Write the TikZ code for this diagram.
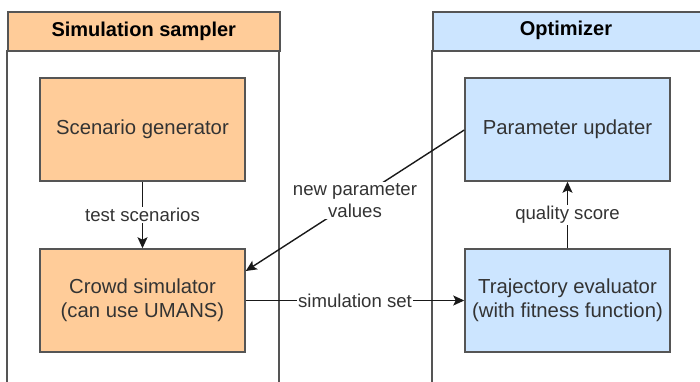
\documentclass[tikz,border=0pt]{standalone}
\usepackage{fontspec}
\setmainfont{Liberation Sans}
\usetikzlibrary{arrows.meta}
\definecolor{lineC}{HTML}{555555}
\definecolor{txtC}{HTML}{333333}
\definecolor{orangeF}{HTML}{FFCC99}
\definecolor{blueF}{HTML}{CCE5FF}
\tikzset{
  lane/.style={draw=lineC, line width=1.5pt},
  header/.style={draw=lineC, line width=1.5pt, text=black, font=\fontsize{20}{24}\selectfont\bfseries},
  procbox/.style={draw=lineC, line width=1.5pt, minimum width=205pt, minimum height=103pt,
    align=center, text=txtC, font=\fontsize{20.3}{24}\selectfont, inner sep=0pt},
  conn/.style={draw=black!90, line width=1.4pt, -{Stealth[length=11pt,width=10pt,inset=2.5pt]}},
  elabel/.style={fill=white, text=txtC, font=\fontsize{18.6}{22}\selectfont, align=center, inner sep=1.5pt}
}
\begin{document}
\begin{tikzpicture}[x=1pt,y=-1pt]
\useasboundingbox (0,0) rectangle (700,381);
% swimlane bodies (open at the bottom)
\draw[lane] (7,50) -- (7,385);
\draw[lane] (279,50) -- (279,385);
\draw[lane] (432,50) -- (432,385);
\draw[lane] (705,50) -- (705,385);
% swimlane headers
\node[header, fill=orangeF, minimum width=272pt, minimum height=39pt, anchor=north west, inner sep=0pt] (hl) at (7,11) {Simulation sampler};
\node[header, fill=blueF, minimum width=280pt, minimum height=39pt, anchor=north west, inner sep=0pt] (hr) at (432,11) {};
\node[text=black, font=\fontsize{20}{24}\selectfont\bfseries] (hrt) at (566,30.5) {Optimizer};
% process boxes
\node[procbox, fill=orangeF] (scen) at (142.5,129.5) {Scenario generator};
\node[procbox, fill=orangeF] (crowd) at (142.5,300.5) {Crowd simulator\\(can use UMANS)};
\node[procbox, fill=blueF] (param) at (567.5,129.5) {Parameter updater};
\node[procbox, fill=blueF] (traj) at (567.5,300.5) {Trajectory evaluator\\(with fitness function)};
% connectors
\draw[conn] (scen) -- node[elabel] {test scenarios} (crowd);
\draw[conn] (traj) -- node[elabel] {quality score} (param);
\draw[conn] (crowd) -- node[elabel] {simulation set} (traj);
\coordinate (pout) at (param.west |- 0,130);
\coordinate (cin) at (crowd.east |- 0,271);
\draw[conn] (pout) -- node[elabel, pos=0.5] {new parameter\\values} (cin);
\end{tikzpicture}
\end{document}
